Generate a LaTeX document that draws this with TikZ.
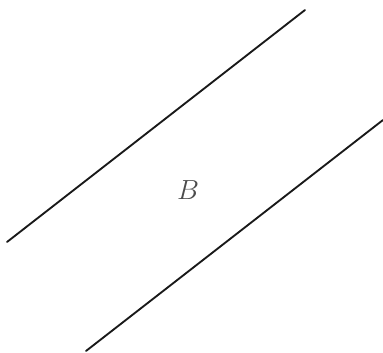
\documentclass[tikz,border=0pt]{standalone}
\usepackage{tikz}

\begin{document}
\begin{tikzpicture}[x=0.75pt,y=-0.75pt]
  \useasboundingbox (0,0) rectangle (383,353);
  \tikzset{edge/.style={line width=1.4pt,line cap=round,black!90}}
  \coordinate (a1) at (7,242);
  \coordinate (a2) at (305,10);
  \coordinate (b1) at (86,351);
  \coordinate (b2) at (383,120);
  \draw[edge] (a1) -- (a2);
  \draw[edge] (b1) -- (b2);
  \node[text=black!70,font=\fontsize{20}{24}\selectfont] (lblB) at (188,190) {$B$};
\end{tikzpicture}
\end{document}
